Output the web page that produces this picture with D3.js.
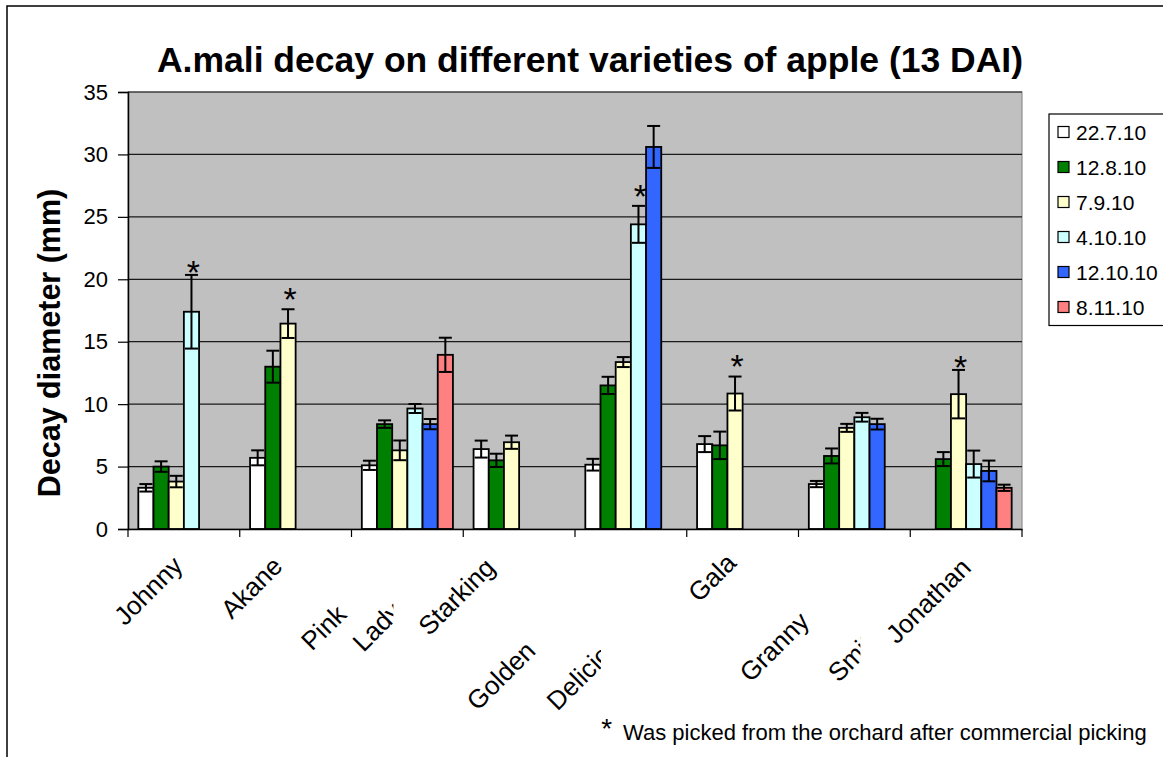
<!DOCTYPE html>
<html>
<head>
<meta charset="utf-8">
<script src="https://cdn.jsdelivr.net/npm/d3@7"></script>
<style>
  html, body { margin: 0; padding: 0; background: #fff; }
  svg { display: block; font-family: "Liberation Sans", Arial, sans-serif; }
</style>
</head>
<body>
<script>
// Apple varieties and sampling dates
const categories = ["Johnny", "Akane", "Pink Lady", "Starking", "Golden Delicious", "Gala", "Granny Smith", "Jonathan"];
const seriesNames = ["22.7.10", "12.8.10", "7.9.10", "4.10.10", "12.10.10", "8.11.10"];

// Mean decay diameter (mm) per sampling date, one value per variety
const s22_7  = [3.3, 5.7, 5.1, 6.4, 5.15, 6.8, 3.6, null];
const s12_8  = [5.0, 13.0, 8.4, 5.5, 11.5, 6.7, 5.85, 5.6];
const s7_9   = [3.8, 16.45, 6.3, 6.95, 13.37, 10.85, 8.1, 10.8];
const s4_10  = [17.4, 0, 9.65, 0, 24.4, 0, 8.95, 5.2];
const s12_10 = [0, 0, 8.4, 0, 30.6, 0, 8.4, 4.65];
const s8_11  = [0, 0, 13.95, 0, 0, 0, 0, 3.3];

// Standard errors
const e22_7  = [0.3, 0.6, 0.37, 0.68, 0.47, 0.64, 0.25, null];
const e12_8  = [0.42, 1.28, 0.3, 0.53, 0.69, 1.1, 0.6, 0.56];
const e7_9   = [0.46, 1.15, 0.79, 0.53, 0.4, 1.36, 0.32, 1.94];
const e4_10  = [2.95, 0, 0.36, 0, 1.48, 0, 0.35, 1.08];
const e12_10 = [0, 0, 0.41, 0, 1.68, 0, 0.43, 0.83];
const e8_11  = [0, 0, 1.37, 0, 0, 0, 0, 0.25];

// Series picked after commercial picking (marked with *)
const starredSeries = ["4.10.10", "7.9.10", null, null, "4.10.10", "7.9.10", null, "7.9.10"];

const yTicks = [0, 5, 10, 15, 20, 25, 30, 35];
const seriesColors = ["#FFFFFF", "#008000", "#FFFFCC", "#CCFFFF", "#3366FF", "#FF8080"];

const titleText = "A.mali decay on different varieties of apple (13 DAI)";
const yTitleText = "Decay diameter (mm)";
const footnoteText = "Was picked from the orchard after commercial picking";

// ---------------------------------------------------------------
const W = 1163, H = 757;
const plot = { left: 128, right: 1022, top: 92, bottom: 529 };

const values = [s22_7, s12_8, s7_9, s4_10, s12_10, s8_11];
const errors = [e22_7, e12_8, e7_9, e4_10, e12_10, e8_11];

const rows = [];
seriesNames.forEach((s, si) => {
  categories.forEach((c, ci) => {
    const v = values[si][ci];
    if (v === null) return;
    rows.push({ cat: c, series: s, si, ci, value: v, err: errors[si][ci] });
  });
});

const svg = d3.select("body").append("svg").attr("width", W).attr("height", H);

// outer chart frame
svg.append("rect")
  .attr("x", 7).attr("y", 6).attr("width", W + 20).attr("height", H + 20)
  .attr("fill", "#fff").attr("stroke", "#000").attr("stroke-width", 1.5);

const x0 = d3.scaleBand().domain(categories).range([plot.left, plot.right]).paddingInner(0).paddingOuter(0);
const x1 = d3.scaleBand().domain(seriesNames).range([0, x0.bandwidth()]).paddingInner(0).paddingOuter(0.68);
const y = d3.scaleLinear().domain([0, 35]).range([plot.bottom, plot.top]);
const color = d3.scaleOrdinal().domain(seriesNames).range(seriesColors);

// plot area
svg.append("rect")
  .attr("x", plot.left).attr("y", plot.top)
  .attr("width", plot.right - plot.left).attr("height", plot.bottom - plot.top)
  .attr("fill", "#C0C0C0").attr("stroke", "#808080").attr("stroke-width", 1);

// gridlines
svg.append("g").selectAll("line").data(yTicks.filter(d => d > 0)).join("line")
  .attr("x1", plot.left).attr("x2", plot.right)
  .attr("y1", d => y(d)).attr("y2", d => y(d))
  .attr("stroke", "#1a1a1a").attr("stroke-width", 1.2);

// bars
svg.append("g").selectAll("rect").data(rows).join("rect")
  .attr("x", d => x0(d.cat) + x1(d.series))
  .attr("width", x1.bandwidth())
  .attr("y", d => y(d.value))
  .attr("height", d => y(0) - y(d.value))
  .attr("fill", d => color(d.series))
  .attr("stroke", "#000").attr("stroke-width", 1.8);

// error bars
const cap = 6.5;
const eg = svg.append("g").attr("stroke", "#000").attr("stroke-width", 2).attr("fill", "none");
rows.filter(d => d.err > 0).forEach(d => {
  const cx = x0(d.cat) + x1(d.series) + x1.bandwidth() / 2;
  const yt = y(d.value + d.err), yb = y(d.value - d.err);
  eg.append("line").attr("x1", cx).attr("x2", cx).attr("y1", yt).attr("y2", yb);
  eg.append("line").attr("x1", cx - cap).attr("x2", cx + cap).attr("y1", yt).attr("y2", yt);
  eg.append("line").attr("x1", cx - cap).attr("x2", cx + cap).attr("y1", yb).attr("y2", yb);
});

// asterisks above starred bars
const starSize = 34;
const starGap = [10, 18, 0, 0, 17, 18, 0, 10];
categories.forEach((c, ci) => {
  const s = starredSeries[ci];
  if (!s) return;
  const si = seriesNames.indexOf(s);
  const v = values[si][ci], e = errors[si][ci];
  const cx = x0(c) + x1(s) + x1.bandwidth() / 2 + 2;
  const cy = y(v + e) - starGap[ci];
  svg.append("text").attr("x", cx).attr("y", cy + starSize * 0.57)
    .attr("text-anchor", "middle").attr("font-size", starSize).text("*");
});

// y axis
const yAxis = svg.append("g").attr("transform", `translate(${plot.left},0)`)
  .call(d3.axisLeft(y).tickValues(yTicks).tickSize(10).tickPadding(10).tickFormat(d3.format("d")));
yAxis.select(".domain").attr("stroke", "#000").attr("stroke-width", 1.5);
yAxis.selectAll(".tick line").attr("stroke", "#000").attr("stroke-width", 1.2);
yAxis.selectAll(".tick text").attr("font-size", 22).attr("fill", "#000")
  .attr("font-family", "'Liberation Sans', Arial, sans-serif");

// x axis with ticks at category boundaries
const xAxis = svg.append("g").attr("transform", `translate(0,${plot.bottom})`)
  .call(d3.axisBottom(x0).tickSize(0).tickFormat(""));
xAxis.select(".domain").attr("stroke", "#000").attr("stroke-width", 1.5);
const bounds = categories.map(c => x0(c)).concat([x0(categories[categories.length - 1]) + x0.bandwidth()]);
xAxis.selectAll(".bound").data(bounds).join("line").attr("class", "bound")
  .attr("x1", d => d).attr("x2", d => d).attr("y1", 0).attr("y2", 8)
  .attr("stroke", "#000").attr("stroke-width", 1.2);

// rotated category labels; two-word names wrap onto a second, clipped line
const labelLayout = [
  [{ t: "Johnny", dx: -59, y: 626.7 }],
  [{ t: "Akane", dx: -63.8, y: 620 }],
  [{ t: "Pink", dx: -95.3, y: 651.7 }, { t: "Lady", dx: -44, y: 653, clip: -14 }],
  [{ t: "Starking", dx: -90, y: 636.7 }],
  [{ t: "Golden", dx: -153.3, y: 711.7 }, { t: "Delicious", dx: -73.3, y: 711.7, clip: -30 }],
  [{ t: "Gala", dx: -43.7, y: 603.3 }],
  [{ t: "Granny", dx: -104, y: 683.3 }, { t: "Smith", dx: -15.7, y: 683.3, clip: 6 }],
  [{ t: "Jonathan", dx: -69.3, y: 645 }]
];
const defs = svg.append("defs");
const lg = svg.append("g").attr("font-size", 26).attr("fill", "#000");
categories.forEach((c, ci) => {
  const cx = x0(c) + x0.bandwidth() / 2;
  labelLayout[ci].forEach((l, li) => {
    let parent = lg;
    if (l.clip !== undefined) {
      const id = `clip-${ci}-${li}`;
      defs.append("clipPath").attr("id", id).append("rect")
        .attr("x", 0).attr("y", 540).attr("width", cx + l.clip).attr("height", 217);
      parent = lg.append("g").attr("clip-path", `url(#${id})`);
    }
    parent.append("text")
      .attr("transform", `translate(${cx + l.dx},${l.y}) rotate(-45)`)
      .attr("text-anchor", "start").text(l.t);
  });
});

// title
svg.append("text").attr("x", 590).attr("y", 72).attr("text-anchor", "middle")
  .attr("font-size", 35.5).attr("font-weight", "bold").text(titleText);

// y axis title
svg.append("text").attr("transform", "translate(60,343) rotate(-90)")
  .attr("text-anchor", "middle").attr("font-size", 30.5).attr("font-weight", "bold").text(yTitleText);

// legend
const leg = svg.append("g");
leg.append("rect").attr("x", 1049).attr("y", 114).attr("width", 130).attr("height", 211.5)
  .attr("fill", "#fff").attr("stroke", "#000").attr("stroke-width", 1.2);
seriesNames.forEach((s, i) => {
  const cy = 132 + i * 35;
  leg.append("rect").attr("x", 1058).attr("y", cy - 5.5).attr("width", 11).attr("height", 11)
    .attr("fill", color(s)).attr("stroke", "#000").attr("stroke-width", 1.2);
  leg.append("text").attr("x", 1076).attr("y", cy + 7.5).attr("font-size", 21).text(s);
});

// footnote
svg.append("text").attr("x", 606.7).attr("y", 722.5 + 28 * 0.57).attr("text-anchor", "middle")
  .attr("font-size", 28).text("*");
svg.append("text").attr("x", 623).attr("y", 740).attr("font-size", 22).text(footnoteText);
</script>
</body>
</html>
